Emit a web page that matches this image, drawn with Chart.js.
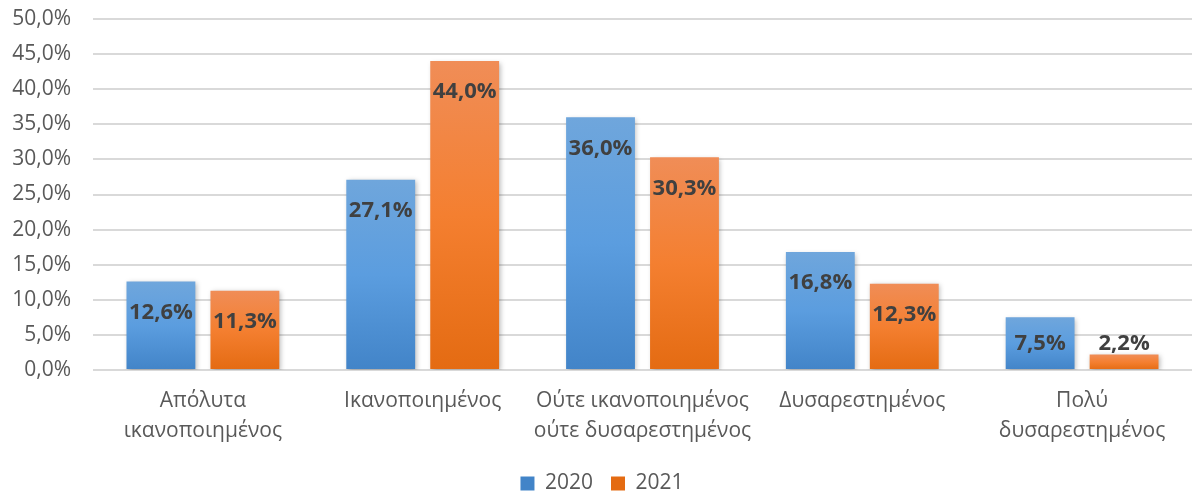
<!DOCTYPE html>
<html>
<head>
<meta charset="utf-8">
<script src="https://cdn.jsdelivr.net/npm/chart.js@4.4.1/dist/chart.umd.min.js"></script>
<style>
  html, body { margin: 0; padding: 0; background: #ffffff; }
  #wrap { width: 1192px; height: 498px; position: relative; }
</style>
</head>
<body>
<div id="wrap"><canvas id="chart"></canvas></div>
<script>
// Satisfaction levels (two-line labels) and yearly shares in percent
const categories = [
  ['Απόλυτα', 'ικανοποιημένος'],
  ['Ικανοποιημένος'],
  ['Ούτε ικανοποιημένος', 'ούτε δυσαρεστημένος'],
  ['Δυσαρεστημένος'],
  ['Πολύ', 'δυσαρεστημένος']
];
const seriesNames = ['2020', '2021'];
const values2020 = [12.6, 27.1, 36.0, 16.8, 7.5];
const values2021 = [11.3, 44.0, 30.3, 12.3, 2.2];
const yTicks = [0, 5, 10, 15, 20, 25, 30, 35, 40, 45, 50];

const FONT = '"Open Sans", "Noto Sans", sans-serif';

const fmt = v => v.toFixed(1).replace('.', ',') + '%';

// Vertical gradient per bar: light top, bright middle, deeper bottom
function barFill(stops, solid) {
  return function (ctx) {
    if (ctx.type !== 'data') return solid;
    const chart = ctx.chart;
    const y = chart.scales.y;
    if (!y) return solid;
    const top = y.getPixelForValue(ctx.raw);
    const base = y.getPixelForValue(0);
    if (!isFinite(top) || !isFinite(base) || base - top < 1) return solid;
    const g = chart.ctx.createLinearGradient(0, top, 0, base);
    g.addColorStop(0, stops[0]);
    g.addColorStop(0.5, stops[1]);
    g.addColorStop(1, stops[2]);
    return g;
  };
}

const blueStops = ['#6fa6dc', '#5b9ddf', '#4284c8'];
const orangeStops = ['#f08d57', '#f47f30', '#e46b12'];

// Soft drop shadow under the bars
const barShadow = {
  id: 'barShadow',
  beforeDatasetsDraw(chart) {
    const c = chart.ctx;
    c.save();
    c.shadowColor = 'rgba(0,0,0,0.28)';
    c.shadowBlur = 5;
    c.shadowOffsetX = 1.5;
    c.shadowOffsetY = 1.5;
  },
  afterDatasetsDraw(chart) {
    chart.ctx.restore();
  }
};

// Value labels near the top inside each bar
const valueLabels = {
  id: 'valueLabels',
  afterDatasetsDraw(chart) {
    const c = chart.ctx;
    const base = chart.scales.y.getPixelForValue(0);
    c.save();
    c.font = '700 22px ' + FONT;
    c.fillStyle = '#404040';
    c.textAlign = 'center';
    c.textBaseline = 'middle';
    chart.data.datasets.forEach((ds, i) => {
      const meta = chart.getDatasetMeta(i);
      meta.data.forEach((bar, j) => {
        const cy = Math.min(bar.y + 31, base - 26);
        c.fillText(fmt(ds.data[j]), bar.x, cy);
      });
    });
    c.restore();
  }
};

new Chart(document.getElementById('chart'), {
  type: 'bar',
  data: {
    labels: categories,
    datasets: [
      {
        label: seriesNames[0],
        data: values2020,
        backgroundColor: barFill(blueStops, '#5b9bd5'),
        categoryPercentage: 0.764,
        barPercentage: 0.82
      },
      {
        label: seriesNames[1],
        data: values2021,
        backgroundColor: barFill(orangeStops, '#f07f2c'),
        categoryPercentage: 0.764,
        barPercentage: 0.82
      }
    ]
  },
  options: {
    responsive: true,
    maintainAspectRatio: false,
    animation: false,
    layout: { padding: { left: 12, right: 0, top: 19, bottom: -6 } },
    scales: {
      x: {
        grid: { display: false, drawTicks: false },
        border: { display: false },
        afterFit(axis) {
          axis.height = 85;
          axis.paddingLeft = 0;
          axis.paddingRight = 0;
        },
        ticks: {
          color: '#595959',
          font: { family: FONT, size: 21, lineHeight: 1.43 },
          padding: 16,
          maxRotation: 0,
          minRotation: 0,
          autoSkip: false
        }
      },
      y: {
        min: 0,
        max: 50,
        afterBuildTicks(axis) {
          axis.ticks = yTicks.map(v => ({ value: v }));
        },
        afterFit(axis) {
          axis.width = 81;
          axis.paddingTop = 0;
          axis.paddingBottom = 0;
        },
        grid: { color: '#d9d9d9', lineWidth: 2, drawTicks: false },
        border: { display: false },
        ticks: {
          color: '#595959',
          font: { family: FONT, size: 21 },
          padding: 22,
          callback: v => fmt(v)
        }
      }
    },
    plugins: {
      legend: {
        position: 'bottom',
        labels: {
          color: '#595959',
          font: { family: FONT, size: 21 },
          boxWidth: 14,
          boxHeight: 14,
          padding: 18
        }
      },
      tooltip: { enabled: false }
    }
  },
  plugins: [barShadow, valueLabels]
});
</script>
</body>
</html>
